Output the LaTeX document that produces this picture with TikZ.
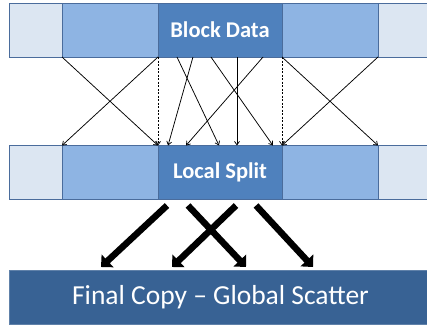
\documentclass[tikz,border=0pt]{standalone}
\usepackage{fontspec}
\setmainfont{Carlito}
\usetikzlibrary{calc,arrows.meta}
\definecolor{lightblk}{HTML}{DCE6F2}
\definecolor{midblk}{HTML}{8EB4E3}
\definecolor{darkblk}{HTML}{4F81BD}
\definecolor{finalblk}{HTML}{386294}
\definecolor{edgeblk}{HTML}{4A6C9C}
\tikzset{
  cell/.style={draw=edgeblk, line width=1pt, minimum height=54pt, inner sep=0pt, outer sep=0pt},
  lightcell/.style={cell, fill=lightblk},
  midcell/.style={cell, fill=midblk},
  darkcell/.style={cell, fill=darkblk, text=white, font=\bfseries\fontsize{22.5}{26}\selectfont},
  finalcell/.style={draw=finalblk!80!white, line width=0.9pt, fill=finalblk, inner sep=0pt, outer sep=0pt,
     minimum height=54pt, minimum width=423pt, text=white, font=\fontsize{27.5}{30}\selectfont},
  thinarr/.style={line width=0.75pt, -{Straight Barb[length=3.5pt,width=5pt]}},
  dasharr/.style={thinarr, dash pattern=on 2pt off 1.5pt},
  bigarr/.style={line width=6.5pt, -{Triangle[length=9pt,width=17pt]}}
}
\begin{document}
\begin{tikzpicture}[x=1pt,y=-1pt]
\useasboundingbox (0,0) rectangle (427,327);
% top row
\node[lightcell, minimum width=53pt] (tl1) at (35.5,30) {};
\node[midcell, minimum width=96pt] (tl2) at (110,30) {};
\node[darkcell, minimum width=124pt] (tc) at (220,30) {Block Data};
\node[midcell, minimum width=96pt] (tr2) at (330,30) {};
\node[lightcell, minimum width=54pt] (tr1) at (405,30) {};
% middle row
\node[lightcell, minimum width=53pt] (ml1) at (35.5,172.5) {};
\node[midcell, minimum width=96pt] (ml2) at (110,172.5) {};
\node[darkcell, minimum width=124pt] (mc) at (220,172.5) {Local Split};
\node[midcell, minimum width=96pt] (mr2) at (330,172.5) {};
\node[lightcell, minimum width=54pt] (mr1) at (405,172.5) {};
% final
\node[finalcell] (fin) at (220.5,297) {Final Copy – Global Scatter};
% thin arrows
\draw[thinarr] (tl2.south west) -- (mc.north west);
\draw[thinarr] (tc.south west) -- (ml2.north west);
\draw[dasharr] (tc.south west) -- (mc.north west);
\draw[thinarr] ($(tc.south west)!0.153!(tc.south east)$) -- ($(mc.north west)!0.492!(mc.north east)$);
\draw[thinarr] ($(tc.south west)!0.282!(tc.south east)$) -- ($(mc.north west)!0.081!(mc.north east)$);
\draw[thinarr] ($(tc.south west)!0.427!(tc.south east)$) -- ($(mc.north west)!0.927!(mc.north east)$);
\draw[thinarr] ($(tc.south west)!0.637!(tc.south east)$) -- ($(mc.north west)!0.637!(mc.north east)$);
\draw[thinarr] ($(tc.south west)!0.847!(tc.south east)$) -- ($(mc.north west)!0.226!(mc.north east)$);
\draw[dasharr] (tc.south east) -- (mc.north east);
\draw[thinarr] (tr2.south west) -- (mr2.north east);
\draw[thinarr] (tr2.south east) -- (mr2.north west);
% thick arrows
\draw[bigarr] ($(mc.south west)+(9,6)$) -- ($(fin.north west)+(92,-3)$);
\draw[bigarr] ($(mc.south west)+(30,6)$) -- ($(fin.north west)+(237,-3)$);
\draw[bigarr] ($(mc.south west)+(78,6)$) -- ($(fin.north west)+(163,-3)$);
\draw[bigarr] ($(mc.south west)+(98,6)$) -- ($(fin.north west)+(304,-3)$);
\end{tikzpicture}
\end{document}
